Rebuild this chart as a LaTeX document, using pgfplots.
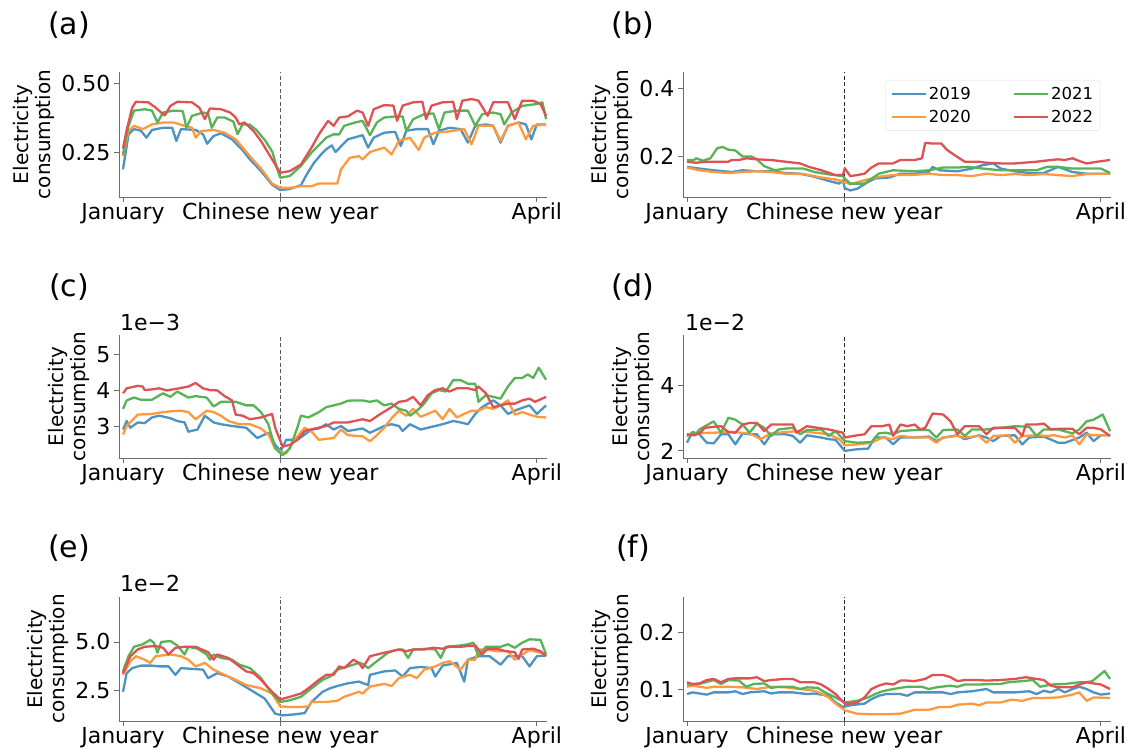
\documentclass[border=0pt]{standalone}
\usepackage{fontspec}
\setmainfont{DejaVu Sans}
\usepackage{pgfplots}
\pgfplotsset{compat=1.18}
\definecolor{c19}{HTML}{4C92C3}
\definecolor{c20}{HTML}{FF993E}
\definecolor{c21}{HTML}{56B356}
\definecolor{c22}{HTML}{DE5253}
\pgfplotsset{
 panel/.style={
  scale only axis, width=428pt, anchor=south west,
  axis lines=left, axis line style={-, draw=gray!85!black, line width=0.9pt},
  xmin=-0.87, xmax=92.2,
  xtick={0,34.2,90}, xticklabels={January, Chinese new year, April},
  tick align=outside, major tick length=5pt, minor tick num=0,
  tick style={draw=gray!85!black, line width=0.9pt},
  ticklabel style={font=\fontsize{22}{22}\selectfont},
  xticklabel style={inner sep=1pt},
  /pgf/number format/assume math mode=true,
  ylabel={Electricity\\consumption},
  ylabel style={align=center, font=\fontsize{20}{22}\selectfont},
  every axis plot/.append style={line width=2.3pt, line join=round},
 },
 cny/.style={forget plot, dash pattern=on 4pt off 2.5pt, line width=1pt, draw=gray!70!black},
}
\begin{document}
\begin{tikzpicture}
\useasboundingbox (0,0) rectangle (1132pt,749pt);
% titles
\node[font=\fontsize{30}{30}\selectfont] at (69pt,724pt) {(a)};
\node[font=\fontsize{30}{30}\selectfont] at (633pt,724pt) {(b)};
\node[font=\fontsize{30}{30}\selectfont] at (69pt,462pt) {(c)};
\node[font=\fontsize{30}{30}\selectfont] at (633pt,462pt) {(d)};
\node[font=\fontsize{30}{30}\selectfont] at (69pt,201pt) {(e)};
\node[font=\fontsize{30}{30}\selectfont] at (633pt,201pt) {(f)};
\node[font=\fontsize{22}{22}\selectfont, anchor=base west, inner sep=0pt] at (120pt,418pt) {1e−3};
\node[font=\fontsize{22}{22}\selectfont, anchor=base west, inner sep=0pt] at (685pt,418pt) {1e−2};
\node[font=\fontsize{22}{22}\selectfont, anchor=base west, inner sep=0pt] at (120pt,157pt) {1e−2};

% (a)
\begin{axis}[panel, at={(119pt,552pt)}, height=125pt, ymin=0.087, ymax=0.54,
  ytick={0.25,0.5}, yticklabels={0.25,0.50}]
\addplot[cny] coordinates {(34.2,0.087) (34.2,0.54)};
\addplot[c19] coordinates {(0,0.187)(1.2,0.314)(2.4,0.333)(3.9,0.327)(5.1,0.302)(6.3,0.33)(8.7,0.338)(10.7,0.338)(11.6,0.29)(12.6,0.333)(15.8,0.33)(17.4,0.314)(18.3,0.28)(19.7,0.308)(21.3,0.318)(23.7,0.296)(26,0.257)(27.6,0.223)(30,0.181)(32.4,0.132)(34.2,0.112)(36.3,0.116)(38.7,0.13)(40,0.17)(41.5,0.21)(43,0.24)(44.2,0.26)(45.4,0.274)(46.2,0.25)(48.9,0.296)(52.1,0.311)(53.3,0.266)(54.5,0.302)(56.8,0.32)(59.2,0.323)(60.4,0.272)(61.6,0.327)(63.9,0.333)(66.3,0.333)(67.5,0.278)(68.7,0.327)(71,0.338)(73.4,0.333)(75,0.284)(76.6,0.345)(78.9,0.35)(80.5,0.345)(82.1,0.284)(83.7,0.345)(86,0.357)(87.6,0.35)(88.8,0.296)(90,0.35)(92,0.35)};
\addplot[c20] coordinates {(0,0.235)(1.2,0.326)(2.4,0.345)(4.3,0.333)(6.3,0.35)(8.7,0.357)(11,0.357)(13.4,0.345)(15,0.338)(15.8,0.302)(17,0.326)(19.7,0.33)(22.1,0.32)(24.5,0.296)(27.6,0.235)(30,0.19)(32.4,0.136)(34.2,0.12)(36.3,0.12)(38.7,0.126)(41,0.126)(42.6,0.136)(46.6,0.136)(47.4,0.187)(49.3,0.229)(51.3,0.235)(52.1,0.223)(53.7,0.25)(56.8,0.266)(58.4,0.241)(60,0.29)(62.4,0.302)(64.3,0.257)(65.5,0.302)(67.9,0.32)(70.2,0.323)(71.8,0.327)(74.2,0.333)(75.8,0.278)(77.3,0.345)(80.5,0.345)(82.1,0.29)(83.7,0.345)(86,0.357)(87.6,0.296)(89.2,0.345)(92,0.35)};
\addplot[c21] coordinates {(0,0.241)(1.2,0.345)(2.4,0.4)(4.7,0.405)(6.3,0.4)(7.5,0.357)(8.7,0.393)(11,0.4)(13,0.398)(13.8,0.338)(15,0.381)(17.4,0.393)(18.5,0.39)(19.3,0.338)(20.5,0.375)(22.1,0.375)(24,0.36)(24.9,0.315)(26,0.35)(27.5,0.35)(29,0.33)(31,0.29)(32.5,0.25)(33.5,0.19)(34.2,0.157)(36.3,0.163)(38.7,0.2)(41,0.248)(44.2,0.302)(45.8,0.314)(47,0.314)(48.1,0.345)(50.5,0.357)(52.1,0.363)(53.7,0.311)(55.2,0.357)(56.8,0.375)(59.2,0.379)(60.8,0.379)(61.6,0.326)(63.1,0.369)(65.5,0.387)(67.5,0.39)(68.7,0.333)(69.9,0.393)(72.6,0.4)(75,0.4)(76.6,0.345)(78.1,0.387)(80.5,0.393)(82.1,0.387)(82.9,0.35)(84.5,0.393)(86.8,0.417)(90,0.424)(91.2,0.43)(92,0.369)};
\addplot[c22] coordinates {(0,0.262)(0.8,0.33)(2,0.411)(2.8,0.432)(5.5,0.43)(7.1,0.411)(8.7,0.387)(9.1,0.383)(10.3,0.417)(11.8,0.432)(15,0.43)(16.6,0.411)(17.8,0.369)(18.9,0.408)(21.3,0.405)(23.3,0.393)(24.5,0.375)(25.3,0.35)(26.4,0.357)(28.4,0.326)(30,0.29)(32,0.235)(34.2,0.175)(36.3,0.181)(38.7,0.205)(41,0.266)(42.6,0.314)(44.6,0.363)(45.8,0.345)(47,0.375)(48.9,0.379)(50.9,0.4)(52.1,0.393)(53.3,0.345)(54.5,0.405)(56.8,0.42)(58.8,0.418)(59.6,0.363)(60.8,0.418)(63.1,0.43)(65.1,0.432)(65.9,0.369)(67.1,0.418)(69.5,0.43)(71.8,0.432)(72.6,0.369)(73.8,0.436)(75.8,0.442)(77.3,0.436)(79.3,0.381)(80.5,0.43)(83.7,0.43)(85.2,0.369)(86.8,0.436)(89.2,0.436)(90.8,0.424)(92,0.381)};
\end{axis}

% (b)
\begin{axis}[panel, at={(683pt,552pt)}, height=125pt, ymin=0.082, ymax=0.447,
  ytick={0.2,0.4}, yticklabels={0.2,0.4},
  legend columns=2, transpose legend,
  legend image code/.code={\draw[#1] (0pt,0pt) -- (34pt,0pt);},
  legend style={at={(axis description cs:0.975,0.936)}, anchor=north east,
    draw=gray!25, rounded corners=3pt, fill=white,
    font=\fontsize{16.5}{19}\selectfont, inner xsep=5pt, inner ysep=5pt,
    row sep=5pt,
    /tikz/every even column/.append style={column sep=40pt}}]
\addplot[cny, draw=black!85] coordinates {(34.2,0.082) (34.2,0.447)};
\addplot[c19] coordinates {(0,0.17)(2.7,0.165)(5.8,0.16)(9.7,0.155)(12.1,0.16)(15.2,0.157)(18.3,0.157)(21.4,0.152)(24.6,0.15)(27.7,0.141)(30.8,0.129)(33.1,0.121)(33.9,0.131)(34.3,0.108)(35.5,0.101)(37,0.106)(39.4,0.126)(40.9,0.136)(44,0.139)(46.4,0.15)(49.5,0.15)(52.6,0.155)(53.4,0.17)(54.9,0.16)(58.8,0.157)(62,0.165)(64.3,0.175)(66.6,0.18)(68.2,0.165)(71.3,0.157)(74.4,0.152)(77.6,0.152)(80.7,0.17)(83.8,0.155)(86.9,0.15)(90,0.15)(92,0.15)};
\addplot[c20] coordinates {(0,0.168)(2.7,0.16)(5.8,0.155)(9,0.152)(12.1,0.155)(15.2,0.157)(18.3,0.155)(21.4,0.15)(25.3,0.149)(29.2,0.139)(32.3,0.133)(34.3,0.126)(35.5,0.119)(38.6,0.131)(41.7,0.141)(44.8,0.146)(48.7,0.146)(52.6,0.15)(55.7,0.146)(58.8,0.146)(62,0.143)(65.1,0.15)(68.2,0.146)(71.3,0.149)(74.4,0.146)(77.6,0.149)(80.7,0.146)(83.8,0.143)(86.9,0.149)(90,0.15)(92,0.15)};
\addplot[c21] coordinates {(0,0.19)(1.6,0.19)(1.9,0.195)(3.5,0.188)(5.1,0.195)(6.6,0.225)(7.8,0.228)(9,0.22)(10.5,0.218)(12.1,0.2)(13.3,0.2)(14,0.2)(15.2,0.192)(16.8,0.172)(19.1,0.16)(21.4,0.165)(25.3,0.165)(27.7,0.155)(30.8,0.148)(33.9,0.143)(34.3,0.136)(35.5,0.121)(38.6,0.121)(41.7,0.15)(44.8,0.16)(49.5,0.157)(52.6,0.16)(55.7,0.168)(58.8,0.168)(61.2,0.17)(64.3,0.165)(68.2,0.16)(72.1,0.16)(76,0.16)(78.3,0.17)(80.7,0.17)(83.8,0.165)(86.9,0.165)(90,0.165)(92,0.152)};
\addplot[c22] coordinates {(0,0.185)(1.9,0.182)(4.3,0.185)(7.4,0.185)(9,0.185)(9.7,0.19)(11.3,0.19)(12.9,0.195)(15.2,0.192)(18.3,0.19)(21.4,0.185)(24.6,0.18)(26.5,0.17)(29.2,0.16)(32.3,0.146)(33.9,0.146)(34.3,0.166)(35.5,0.143)(37,0.146)(38.6,0.15)(40.1,0.168)(41.7,0.18)(44.8,0.18)(46.4,0.19)(49.5,0.19)(51.1,0.195)(51.8,0.24)(53.4,0.238)(55.3,0.238)(56.5,0.22)(58.1,0.205)(60.4,0.185)(63.5,0.185)(65.1,0.182)(68.2,0.18)(71.3,0.18)(76,0.185)(79.1,0.19)(80.7,0.192)(82.2,0.19)(83.8,0.195)(85.3,0.187)(86.9,0.18)(89.2,0.185)(92,0.19)};
\legend{2019,2020,2021,2022}
\end{axis}

% (c)
\begin{axis}[panel, at={(119pt,291pt)}, height=123pt, ymin=2.1, ymax=5.56,
  ytick={3,4,5}, yticklabels={3,4,5}]
\addplot[cny] coordinates {(34.2,2.1) (34.2,5.56)};
\addplot[c19] coordinates {(0,2.9)(0.8,3.14)(1.6,2.95)(3.2,3.1)(4.7,3.08)(6.3,3.24)(7.9,3.29)(10.3,3.22)(11.8,3.14)(13.4,3.1)(14.2,2.84)(16.2,2.9)(17.8,3.29)(19.7,3.1)(21.3,3.05)(23.7,3.0)(26.8,2.95)(29.2,2.66)(31.6,2.81)(33.1,2.47)(34.3,2.29)(35.5,2.61)(37.9,2.61)(39.5,2.76)(41,2.9)(42.6,2.93)(44.2,3.05)(45.8,2.9)(47.4,3.0)(48.9,2.86)(52.1,2.93)(53.7,2.81)(55.2,2.9)(56.8,3.0)(58.4,3.05)(60,3.0)(60.8,2.86)(62.4,3.05)(64.7,2.9)(67.9,3.0)(69.5,3.05)(71.8,3.14)(73.4,3.1)(75,3.05)(76.6,3.34)(78.1,3.53)(80.5,3.72)(82.1,3.58)(83.7,3.34)(85.2,3.43)(86.8,3.51)(88.4,3.58)(90,3.34)(92,3.58)};
\addplot[c20] coordinates {(0,2.76)(0.8,3.0)(3.2,3.32)(6.3,3.34)(8.7,3.39)(11,3.42)(12.6,3.43)(14.2,3.39)(15.8,3.19)(18.2,3.43)(19.7,3.39)(21.3,3.29)(22.9,3.14)(25.3,3.05)(27.6,3.05)(30,2.93)(31.6,2.76)(33.1,2.37)(34.3,2.28)(35.5,2.23)(37.1,2.57)(39.5,2.95)(41,2.84)(42.6,2.61)(44.2,2.64)(45.8,2.66)(47.4,2.9)(48.9,2.74)(52.1,2.71)(53.7,2.57)(55.2,2.74)(56.8,2.95)(58.4,3.22)(60,3.43)(61.6,3.29)(63.1,3.48)(64.7,3.26)(66.3,3.34)(67.9,3.43)(69.5,3.19)(71,3.48)(72.6,3.24)(74.2,3.34)(75.8,3.43)(77.3,3.43)(78.9,3.53)(80.5,3.48)(82.1,3.58)(83.7,3.72)(85.2,3.32)(86.8,3.39)(88.4,3.32)(90,3.26)(92,3.24)};
\addplot[c21] coordinates {(0,3.48)(0.8,3.72)(2.4,3.8)(3.9,3.74)(6.3,3.74)(8.7,3.92)(10.3,3.82)(11.8,3.97)(14.2,3.8)(15.8,3.84)(18.2,3.8)(19.7,3.55)(21.3,3.68)(24.5,3.68)(26.8,3.58)(28.4,3.58)(30,3.39)(31.6,3.05)(33.1,2.37)(34.7,2.18)(36.3,2.37)(37.9,2.95)(38.7,3.29)(40.3,3.24)(42.6,3.39)(44.2,3.53)(45.8,3.58)(47.4,3.63)(48.9,3.71)(50.5,3.72)(52.1,3.72)(53.7,3.68)(55.2,3.72)(56.8,3.58)(58.4,3.63)(60,3.48)(61.6,3.43)(62.4,3.29)(63.9,3.43)(65.5,3.63)(67.1,3.92)(68.7,4.01)(70.2,3.97)(71.8,4.29)(73.4,4.29)(75,4.19)(76.6,4.19)(77.3,3.68)(78.9,3.87)(80.5,3.82)(82.1,3.77)(83.7,4.11)(85.2,4.35)(86.8,4.35)(88,4.45)(89.2,4.35)(90.4,4.64)(92,4.3)};
\addplot[c22] coordinates {(0,3.92)(0.8,4.06)(3.2,4.13)(4.3,4.11)(4.7,4.01)(6.3,4.03)(7.9,4.06)(9.5,4.0)(11.8,4.05)(14.2,4.11)(15.8,4.21)(17.4,4.06)(18.9,4.01)(20.5,4.0)(22.1,3.84)(23.7,3.72)(24.5,3.32)(26,3.29)(27.6,3.19)(30,3.24)(32.4,3.34)(33.1,2.95)(34.7,2.42)(36.3,2.47)(37.9,2.61)(39.5,2.86)(41.8,2.93)(44.2,3.0)(45.8,3.1)(48.9,3.1)(52.1,3.19)(53.7,3.14)(56,3.34)(58.4,3.53)(60,3.68)(61.6,3.71)(63.1,3.82)(64.7,3.58)(66.3,3.87)(67.9,4.01)(69.5,4.06)(71,3.97)(72.6,4.06)(75,4.06)(76.6,4.01)(77.3,4.11)(78.9,3.92)(80.5,3.53)(82.1,3.58)(83.7,3.63)(85.2,3.63)(86.8,3.72)(88.4,3.77)(89.6,3.68)(92,3.82)};
\end{axis}

% (d)
\begin{axis}[panel, at={(683pt,291pt)}, height=123pt, ymin=1.78, ymax=5.57,
  ytick={2,4}, yticklabels={2,4}]
\addplot[cny, draw=black!85] coordinates {(34.2,1.78) (34.2,5.57)};
\addplot[c19] coordinates {(0,2.25)(1.2,2.58)(2.7,2.51)(4.3,2.25)(5.8,2.23)(7.4,2.51)(9,2.51)(10.5,2.2)(12.1,2.54)(13.6,2.51)(15.2,2.51)(16.8,2.2)(18.3,2.51)(21.4,2.51)(23,2.46)(24.6,2.25)(26.1,2.48)(29.2,2.41)(30.8,2.36)(32.3,2.34)(34.3,2.0)(37,2.05)(39.4,2.07)(40.9,2.41)(43.3,2.41)(44.8,2.2)(46.4,2.41)(49.5,2.41)(52.6,2.44)(54.2,2.3)(55.7,2.41)(58.8,2.48)(60.4,2.36)(63.5,2.48)(65.1,2.41)(66.6,2.3)(68.2,2.46)(71.3,2.48)(72.9,2.2)(74.4,2.41)(77.6,2.44)(80.7,2.25)(82.2,2.25)(85.3,2.41)(86.9,2.56)(88.4,2.3)(90,2.48)(92,2.48)};
\addplot[c20] coordinates {(0,2.46)(1.9,2.54)(5.8,2.56)(9.7,2.58)(13.6,2.54)(16,2.36)(18.3,2.54)(21.4,2.58)(24.6,2.61)(27.7,2.56)(30.8,2.51)(33.1,2.36)(34.3,2.17)(37,2.2)(40.1,2.25)(42.5,2.41)(44.8,2.36)(46.4,2.46)(49.5,2.41)(52.6,2.41)(54.2,2.25)(55.7,2.41)(58.8,2.46)(60.4,2.41)(63.5,2.46)(65.1,2.25)(66.6,2.46)(69.8,2.48)(71.3,2.25)(72.9,2.46)(76,2.48)(78.3,2.46)(79.9,2.48)(82.2,2.41)(83.8,2.48)(85.3,2.2)(86.9,2.51)(88.4,2.48)(92,2.48)};
\addplot[c21] coordinates {(0,2.46)(1.2,2.56)(1.9,2.51)(2.7,2.66)(5.8,2.91)(7.4,2.56)(9,3.02)(10.5,2.96)(12.1,2.81)(13.6,2.56)(15.2,2.84)(16.8,2.71)(18.3,2.46)(19.9,2.66)(23,2.71)(24.6,2.51)(26.1,2.64)(29.2,2.66)(30.8,2.46)(32.3,2.61)(34.3,2.3)(37,2.25)(40.1,2.27)(41.7,2.54)(43.3,2.56)(44.8,2.51)(46.4,2.61)(49.5,2.64)(52.6,2.64)(54.2,2.41)(55.7,2.64)(58.8,2.66)(60.4,2.46)(62,2.66)(65.1,2.66)(68.2,2.71)(71.3,2.76)(74.4,2.74)(76,2.46)(77.6,2.66)(80.7,2.66)(83.8,2.54)(85.3,2.66)(86.9,2.91)(88.4,2.96)(90.4,3.12)(92,2.61)};
\addplot[c22] coordinates {(0,2.51)(1.6,2.48)(2.7,2.54)(3.9,2.71)(5.8,2.74)(7.4,2.76)(9,2.58)(10.5,2.56)(12.1,2.81)(13.6,2.86)(15.2,2.86)(16.8,2.61)(18.3,2.81)(19.9,2.81)(23,2.81)(23.8,2.56)(26.1,2.76)(28.4,2.71)(30.8,2.66)(33.9,2.56)(34.3,2.41)(36.2,2.46)(38.6,2.51)(40.1,2.76)(42.5,2.76)(44,2.81)(44.8,2.46)(46.4,2.81)(47.9,2.76)(49.5,2.81)(50.7,2.66)(51.8,2.71)(53.4,3.15)(55.7,3.12)(57.3,2.91)(58.8,2.51)(60.4,2.76)(63.5,2.76)(65.1,2.51)(66.6,2.71)(69,2.71)(71.3,2.71)(72.9,2.46)(73.7,2.81)(76,2.81)(77.6,2.84)(79.1,2.66)(80.7,2.68)(83.8,2.68)(85.3,2.51)(86.9,2.71)(88.4,2.71)(90,2.66)(92,2.46)};
\end{axis}

% (e)
\begin{axis}[panel, at={(119pt,28pt)}, height=124pt, ymin=0.89, ymax=7.34,
  ytick={2.5,5}, yticklabels={2.5,5.0}]
\addplot[cny] coordinates {(34.2,0.89) (34.2,7.34)};
\addplot[c19] coordinates {(0,2.41)(0.8,3.38)(2,3.64)(3.9,3.77)(6.3,3.77)(7.9,3.73)(9.9,3.73)(11.4,3.29)(12.6,3.64)(15.8,3.59)(17.4,3.56)(18.5,3.12)(20.5,3.38)(22.9,3.2)(26,2.76)(28.4,2.41)(30.8,2.06)(33.1,1.27)(34.7,1.18)(37.1,1.23)(39.5,1.3)(41,1.88)(43.4,2.41)(45,2.59)(46.6,2.71)(48.9,2.85)(51.3,2.94)(53.3,2.76)(53.7,3.29)(56.8,3.47)(59.2,3.52)(60.8,3.2)(62.4,3.64)(64.7,3.7)(67.1,3.64)(67.9,3.2)(69.5,3.77)(72.6,3.91)(74.2,2.94)(75,4.08)(77.3,4.26)(79.7,4.26)(82.1,3.82)(83.7,4.26)(86.8,4.26)(88.4,3.73)(90,4.26)(92,4.3)};
\addplot[c20] coordinates {(0,3.29)(1.6,4.0)(2.8,4.26)(4.7,4.08)(5.9,3.91)(7.1,4.26)(10.3,4.35)(12.6,4.26)(14.2,4.08)(15.8,3.73)(17.8,3.91)(19.7,3.56)(22.1,3.29)(24.5,3.03)(26.8,2.76)(30,2.59)(32.4,2.32)(34.2,1.65)(36.3,1.62)(38.7,1.62)(40.3,1.65)(41,1.88)(44.2,1.88)(46.6,1.94)(48.1,2.15)(51.3,2.41)(52.1,2.32)(53.7,2.68)(56.8,2.82)(58.4,2.71)(60,3.12)(62.4,3.29)(63.9,3.12)(65.5,3.56)(67.9,3.73)(69.5,3.91)(71,4.0)(73.4,3.56)(75,4.08)(76.6,4.08)(77.3,4.61)(78.9,4.61)(81.3,4.52)(83.7,4.52)(85.2,4.08)(86.8,4.35)(88.4,4.58)(90.8,4.44)(92,4.35)};
\addplot[c21] coordinates {(0,3.47)(1.2,4.26)(2.4,4.75)(4.3,4.88)(5.9,5.11)(6.7,4.96)(7.5,4.44)(8.3,5.0)(10.3,5.05)(11.8,4.82)(13.4,4.35)(14.2,4.75)(16.2,4.65)(18.2,4.35)(18.9,4.08)(19.7,4.35)(21.3,4.17)(23.7,4.08)(25.3,3.82)(27.6,3.64)(30,3.12)(32.4,2.32)(34.2,1.88)(36.3,1.97)(38.7,2.15)(41,2.59)(43.4,3.03)(45,3.2)(46.6,3.56)(48.9,3.73)(51.3,3.91)(52.1,3.87)(53.3,3.64)(55.2,4.0)(57.6,4.44)(59.2,4.58)(60.8,4.61)(62,4.17)(63.1,4.61)(66.3,4.65)(67.9,4.61)(69.1,4.17)(70.2,4.75)(73.4,4.82)(75,4.88)(76.2,4.96)(77.3,4.26)(78.9,4.75)(82.1,4.75)(83.7,4.88)(85.2,4.7)(86.8,4.96)(88.4,5.14)(90.8,5.11)(92,4.35)};
\addplot[c22] coordinates {(0,3.38)(1.6,4.26)(3.2,4.61)(4.7,4.75)(7.1,4.79)(8.7,4.7)(9.9,4.35)(11.4,4.7)(13.4,4.75)(15.8,4.75)(17.4,4.58)(18.5,4.47)(19.7,4.08)(20.5,4.35)(22.9,4.17)(25.3,3.73)(26.8,3.47)(28.4,3.38)(30,3.03)(32.4,2.41)(34.2,2.01)(36.3,2.15)(38.7,2.32)(40.3,2.59)(42.6,3.03)(44.2,3.29)(45.8,3.29)(47,3.73)(48.1,3.64)(50.1,4.08)(51.3,3.91)(52.1,3.64)(53.7,4.26)(56.8,4.44)(58.4,4.52)(60,4.61)(61.6,4.52)(63.1,4.61)(65.5,4.61)(67.5,4.7)(69.5,4.65)(71,4.75)(73.4,4.75)(75,4.79)(76.6,4.82)(78.1,4.35)(79.3,4.65)(81.3,4.65)(83.3,4.52)(85.2,4.47)(86,4.12)(86.8,4.61)(89.2,4.65)(90.8,4.52)(92,4.26)};
\end{axis}

% (f)
\begin{axis}[panel, at={(683pt,28pt)}, height=124pt, ymin=0.043, ymax=0.264,
  ytick={0.1,0.2}, yticklabels={0.1,0.2}]
\addplot[cny, draw=black!85] coordinates {(34.2,0.043) (34.2,0.264)};
\addplot[c19] coordinates {(0,0.091)(1.2,0.094)(4.3,0.09)(5.8,0.094)(9,0.094)(10.5,0.096)(12.1,0.091)(13.6,0.094)(16.8,0.096)(18.3,0.092)(19.9,0.094)(23,0.094)(26.1,0.091)(27.7,0.092)(30.8,0.088)(32.3,0.076)(33.9,0.068)(35.5,0.071)(38.6,0.074)(40.1,0.082)(41.7,0.088)(43.3,0.091)(46.4,0.091)(47.9,0.088)(49.5,0.094)(52.6,0.094)(55.7,0.094)(57.3,0.091)(58.8,0.094)(62,0.096)(65.1,0.1)(66.6,0.094)(68.2,0.094)(71.3,0.094)(74.4,0.096)(76,0.091)(77.6,0.097)(79.1,0.094)(80.7,0.1)(82.2,0.094)(83.8,0.1)(85.3,0.104)(86.9,0.1)(88.4,0.094)(90,0.09)(92,0.092)};
\addplot[c20] coordinates {(0,0.104)(1.2,0.106)(4.3,0.102)(5.8,0.104)(9,0.104)(12.1,0.103)(15.2,0.1)(18.3,0.104)(21.4,0.103)(24.6,0.1)(27.7,0.097)(29.2,0.092)(30.8,0.085)(32.3,0.074)(34.3,0.062)(37,0.056)(40.1,0.055)(43.3,0.055)(46.4,0.056)(49.5,0.063)(52.6,0.063)(54.9,0.068)(57.3,0.068)(58.8,0.072)(62,0.074)(63.5,0.071)(65.1,0.076)(68.2,0.076)(70.5,0.081)(72.9,0.079)(75.2,0.084)(77.6,0.084)(80.7,0.085)(83.8,0.09)(85.3,0.094)(86.9,0.079)(88.4,0.085)(92,0.084)};
\addplot[c21] coordinates {(0,0.108)(2.7,0.109)(5.8,0.116)(7.4,0.109)(9,0.116)(11.3,0.115)(12.9,0.104)(14.5,0.109)(16.8,0.11)(18.3,0.102)(19.9,0.104)(23,0.104)(24.6,0.1)(26.1,0.103)(28.4,0.102)(30,0.094)(32.3,0.085)(34.3,0.076)(37,0.079)(39.4,0.085)(40.9,0.091)(42.5,0.096)(44.8,0.1)(47.9,0.104)(51.1,0.104)(52.6,0.1)(54.2,0.103)(57.3,0.106)(58.8,0.104)(60.4,0.108)(63.5,0.108)(66.6,0.109)(68.2,0.109)(69.8,0.112)(72.9,0.114)(75.2,0.116)(76.8,0.104)(79.1,0.108)(82.2,0.109)(85.3,0.112)(86.9,0.112)(88.1,0.114)(89.6,0.124)(90.8,0.132)(92,0.118)};
\addplot[c22] coordinates {(0,0.112)(1.2,0.109)(2.7,0.11)(4.3,0.116)(5.8,0.118)(7.4,0.112)(9,0.118)(10.5,0.119)(13.6,0.119)(15.2,0.121)(16.8,0.114)(18.3,0.116)(21.4,0.118)(23,0.118)(24.6,0.112)(27.7,0.112)(29.2,0.108)(30.8,0.1)(32.3,0.091)(34.3,0.074)(35.5,0.074)(37,0.076)(38.6,0.085)(40.1,0.1)(41.7,0.106)(43.3,0.11)(44.8,0.108)(46.4,0.115)(47.9,0.115)(49.5,0.114)(51.8,0.118)(53.4,0.125)(55.7,0.125)(57.3,0.121)(58.8,0.114)(60.4,0.116)(63.5,0.116)(65.1,0.115)(68.2,0.116)(71.3,0.118)(73.7,0.121)(76,0.118)(77.6,0.116)(79.1,0.106)(80.7,0.103)(83.8,0.103)(85.3,0.108)(86.9,0.112)(88.4,0.11)(90,0.108)(92,0.1)};
\end{axis}
\end{tikzpicture}
\end{document}
